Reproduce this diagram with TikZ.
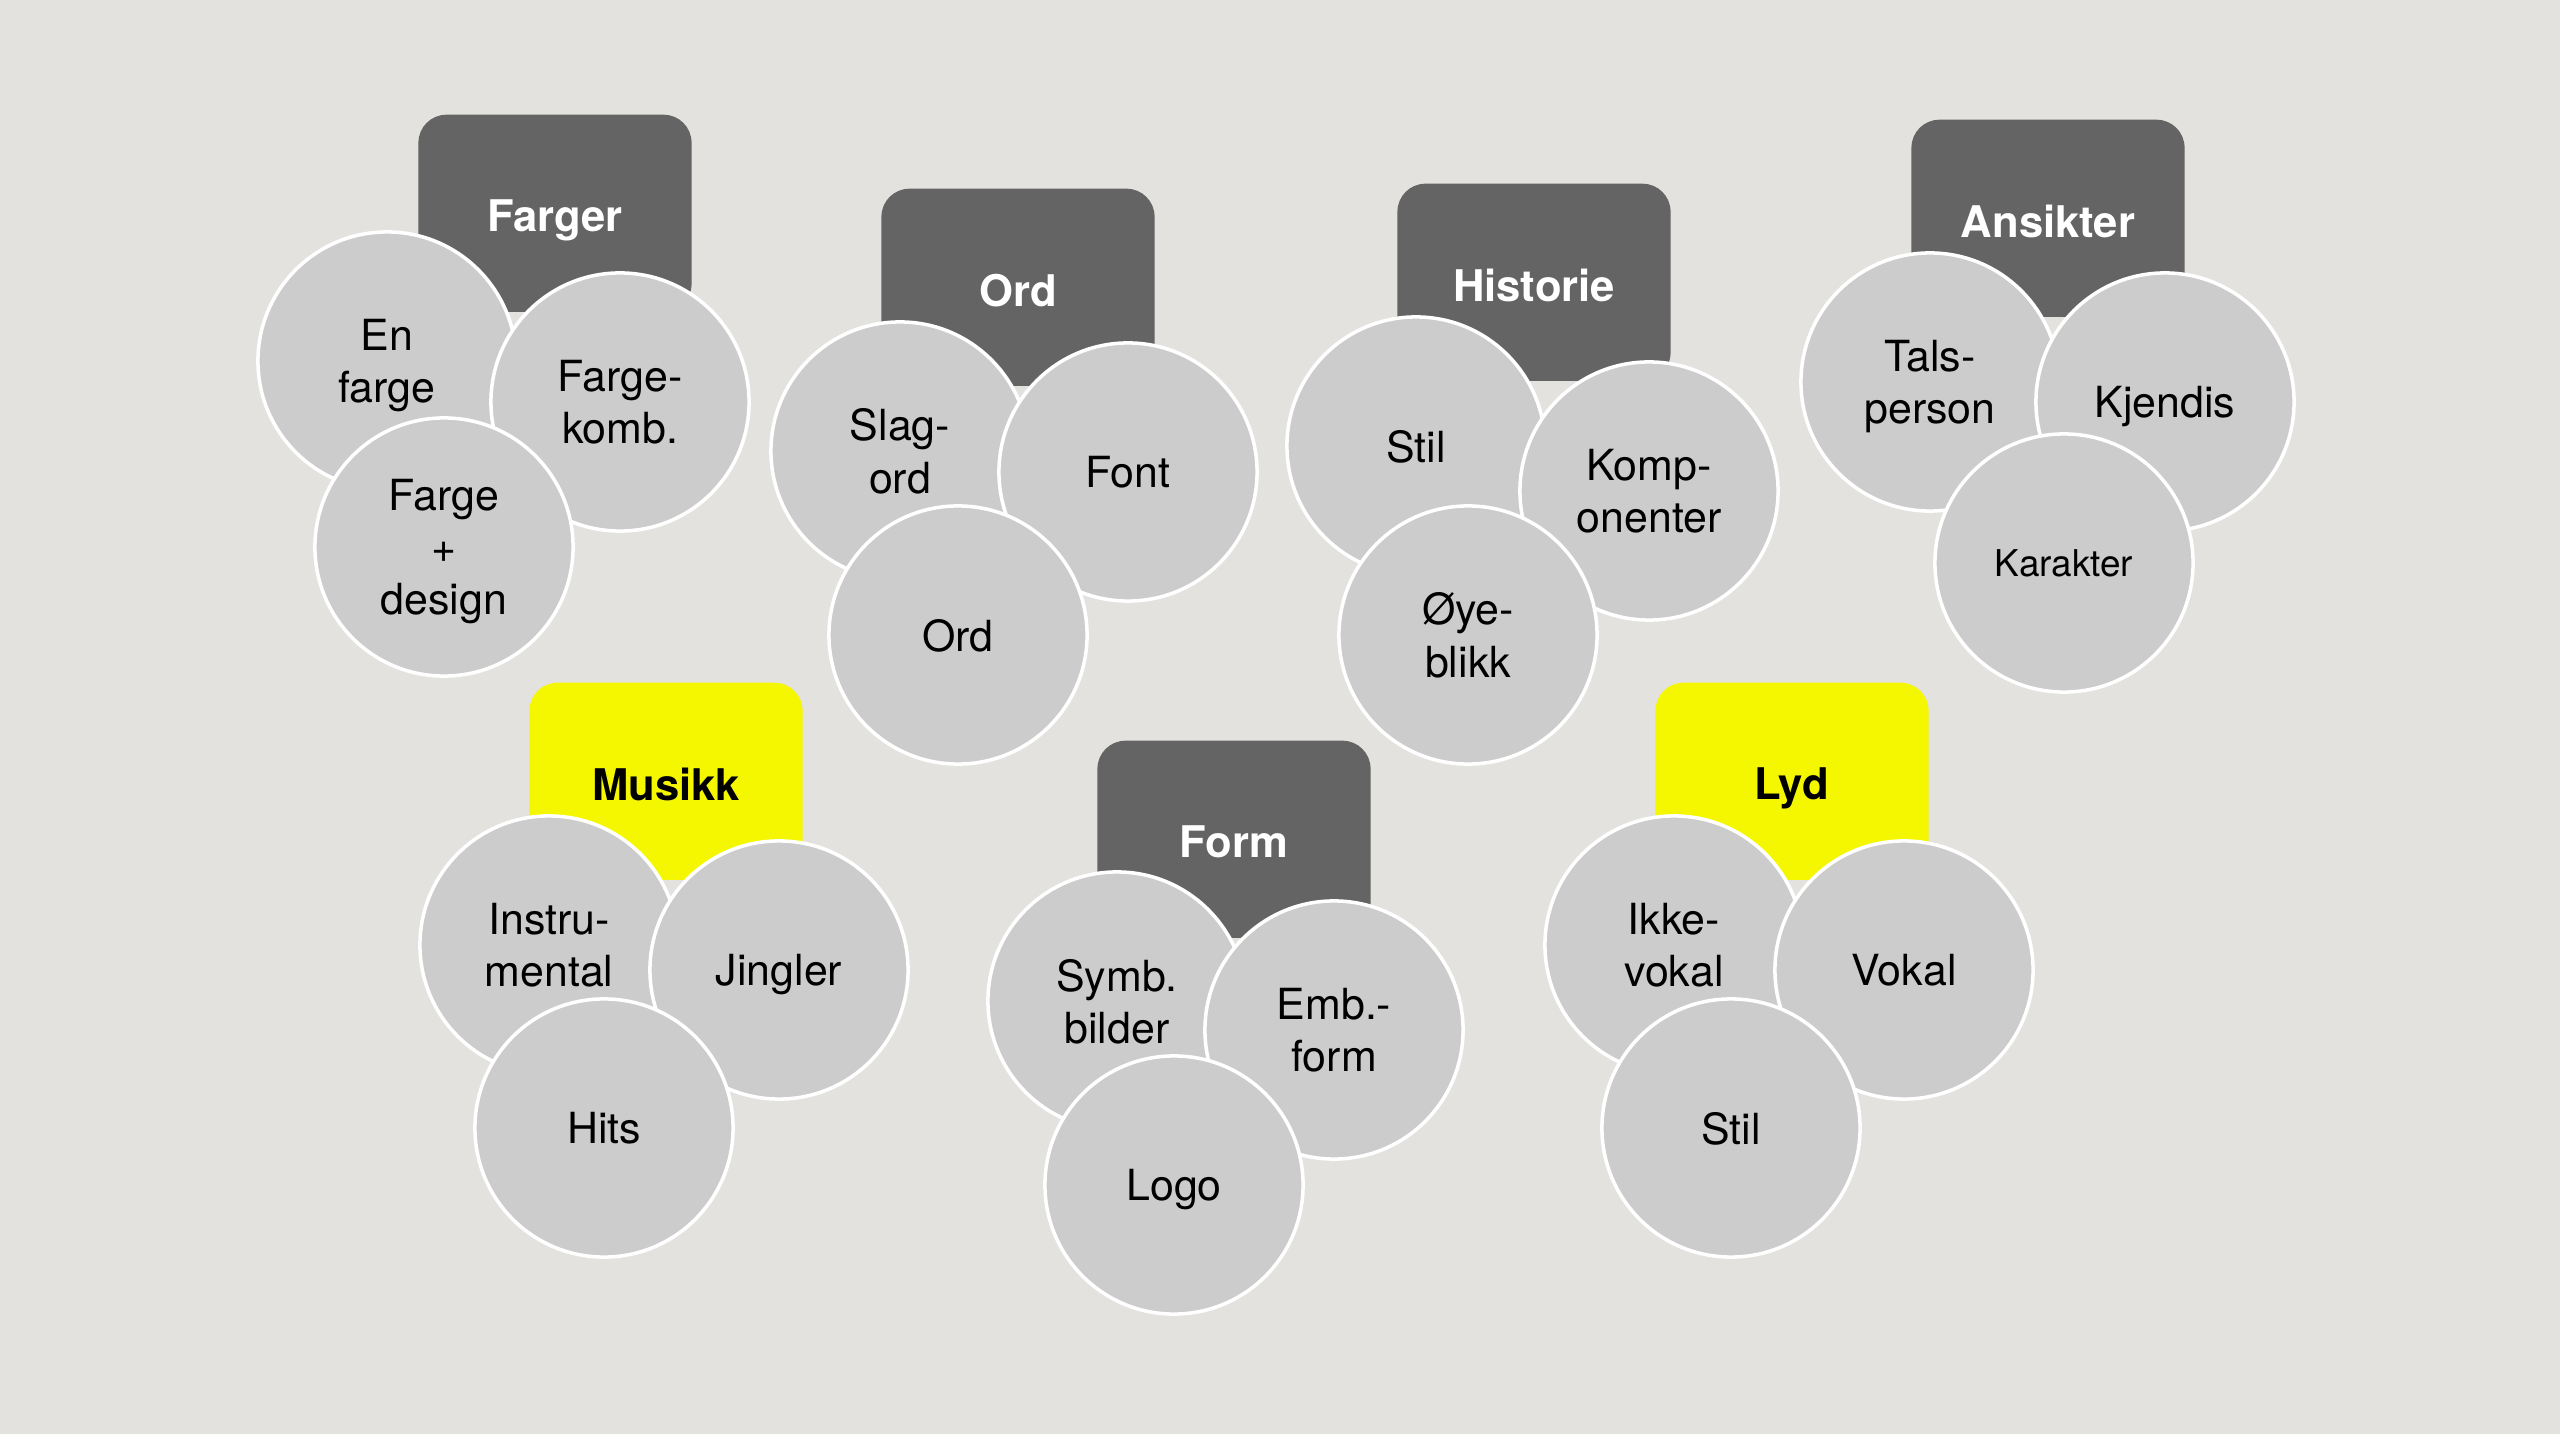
\documentclass[tikz,border=0pt]{standalone}
\usepackage{fontspec}
\setmainfont{TeX Gyre Heros}
\definecolor{bg}{RGB}{227,226,222}
\definecolor{boxgray}{RGB}{100,100,100}
\definecolor{hlyellow}{RGB}{245,247,0}
\definecolor{circgray}{RGB}{204,204,204}
\begin{document}
\begin{tikzpicture}[x=0.01cm, y=-0.01cm,
    box/.style={rounded corners=0.28cm, minimum width=2.73cm, minimum height=1.97cm, anchor=north},
    dark/.style={box, fill=boxgray},
    hl/.style={box, fill=hlyellow},
    heading/.style={font=\fontsize{12.4}{15}\selectfont\bfseries, text depth=0pt},
    bubble/.style={circle, fill=circgray, draw=white, line width=1pt, minimum size=2.58cm,
        inner sep=0pt, align=center, text depth=0pt, font=\fontsize{12.2}{14.8}\selectfont}]
    % Background
    \fill[bg] (0,0) rectangle (2560,1434);
    % Farger
    \node[dark] (farger) at (555,114) {};
    \node[heading, text=white] (fargerT) at ([yshift=-1.02cm]farger.north) {Farger};
    \node[bubble] (farger1) at (387,361) {En\\farge};
    \node[bubble] (farger2) at (620,402) {Farge-\\komb.};
    \node[bubble] (farger3) at (444,547) {Farge\\+\\design};
    % Ord
    \node[dark] (ord) at (1018,188) {};
    \node[heading, text=white] (ordT) at ([yshift=-1.02cm]ord.north) {Ord};
    \node[bubble] (ord1) at (900,451) {Slag-\\ord};
    \node[bubble] (ord2) at (1128,472) {Font};
    \node[bubble] (ord3) at (958,635) {Ord};
    % Historie
    \node[dark] (historie) at (1534,183) {};
    \node[heading, text=white] (historieT) at ([yshift=-1.02cm]historie.north) {Historie};
    \node[bubble] (historie1) at (1416,446) {Stil};
    \node[bubble] (historie2) at (1649,491) {Komp-\\onenter};
    \node[bubble] (historie3) at (1468,635) {Øye-\\blikk};
    % Ansikter
    \node[dark] (ansikter) at (2048,119) {};
    \node[heading, text=white] (ansikterT) at ([yshift=-1.02cm]ansikter.north) {Ansikter};
    \node[bubble] (ansikter1) at (1930,382) {Tals-\\person};
    \node[bubble] (ansikter2) at (2165,402) {Kjendis};
    \node[bubble, font=\fontsize{10.5}{12.6}\selectfont] (ansikter3) at (2064,563) {Karakter};
    % Musikk
    \node[hl] (musikk) at (666,682) {};
    \node[heading] (musikkT) at ([yshift=-1.02cm]musikk.north) {Musikk};
    \node[bubble] (musikk1) at (549,945) {Instru-\\mental};
    \node[bubble] (musikk2) at (779,970) {Jingler};
    \node[bubble] (musikk3) at (604,1128) {Hits};
    % Form
    \node[dark] (form) at (1234,740) {};
    \node[heading, text=white] (formT) at ([yshift=-1.02cm]form.north) {Form};
    \node[bubble] (form1) at (1117,1001) {Symb.\\bilder};
    \node[bubble] (form2) at (1334,1030) {Emb.-\\form};
    \node[bubble] (form3) at (1174,1185) {Logo};
    % Lyd
    \node[hl] (lyd) at (1792,682) {};
    \node[heading] (lydT) at ([yshift=-1.02cm]lyd.north) {Lyd};
    \node[bubble] (lyd1) at (1674,945) {Ikke-\\vokal};
    \node[bubble] (lyd2) at (1904,970) {Vokal};
    \node[bubble] (lyd3) at (1731,1128) {Stil};
\end{tikzpicture}
\end{document}
